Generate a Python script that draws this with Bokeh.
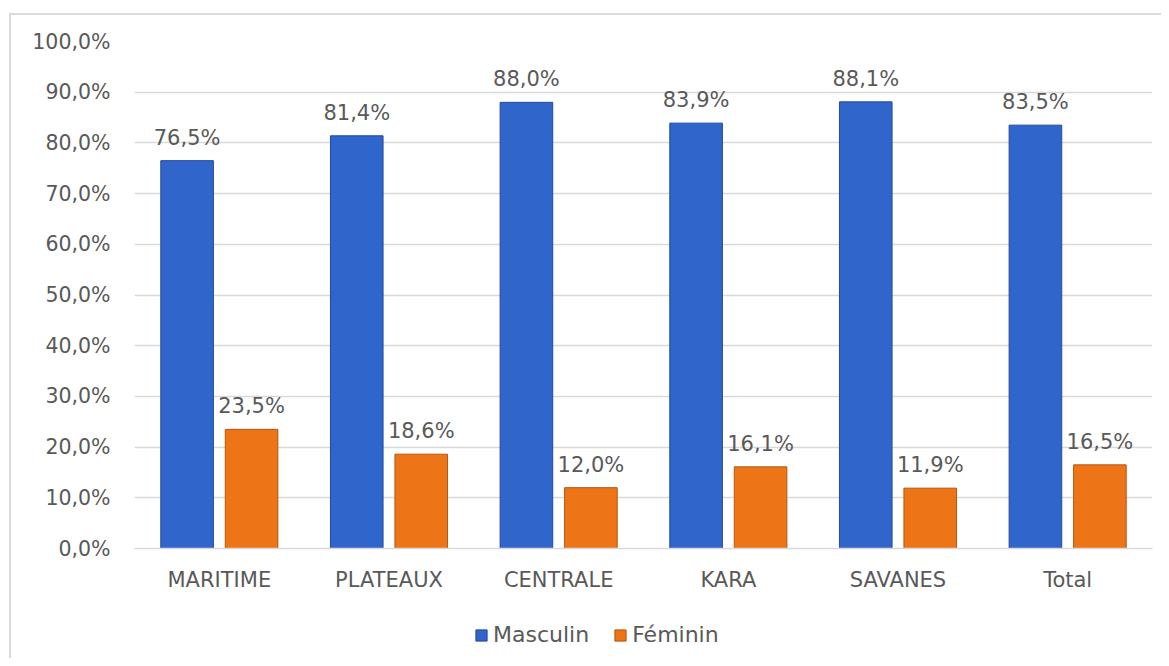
from bokeh.plotting import figure
from bokeh.models import ColumnDataSource, FactorRange, Range1d, CustomJSTickFormatter, Legend, LegendItem, LabelSet
from bokeh.layouts import column
from bokeh.transform import dodge
from bokeh.core.properties import value
from bokeh.embed import file_html
from bokeh.resources import INLINE

categories = ["MARITIME", "PLATEAUX", "CENTRALE", "KARA", "SAVANES", "Total"]
masculin = [76.5, 81.4, 88.0, 83.9, 88.1, 83.5]
feminin = [23.5, 18.6, 12.0, 16.1, 11.9, 16.5]
series_names = ["Masculin", "Féminin"]
colors = ["#3066CC", "#EE7418"]
edges = ["#23499A", "#B5560F"]

def fmt(v):
    return f"{v:.1f}".replace(".", ",") + "%"

src = ColumnDataSource(dict(
    cat=categories,
    m=masculin,
    f=feminin,
    ml=[fmt(v) for v in masculin],
    fl=[fmt(v) for v in feminin],
))

FONT = "DejaVu Sans"
TXT = "#595959"

p = figure(
    x_range=FactorRange(*categories, range_padding=0),
    y_range=Range1d(0, 100),
    width=1150, height=593,
    output_backend="svg", toolbar_location=None,
    min_border_left=123, min_border_right=9, min_border_top=26, min_border_bottom=60,
)
p.x_range.range_padding = 0

bw = 0.31
off = 0.19
rm = p.vbar(x=dodge("cat", -off, range=p.x_range), top="m", width=bw, source=src,
            fill_color=colors[0], line_color=edges[0], line_width=1)
rf = p.vbar(x=dodge("cat", off, range=p.x_range), top="f", width=bw, source=src,
            fill_color=colors[1], line_color=edges[1], line_width=1)

lm = LabelSet(x=dodge("cat", -off, range=p.x_range), y="m", text="ml", source=src,
              text_align="center", text_baseline="bottom", y_offset=11,
              text_font=value(FONT), text_font_size="21px", text_color=TXT)
lf = LabelSet(x=dodge("cat", off, range=p.x_range), y="f", text="fl", source=src,
              text_align="center", text_baseline="bottom", y_offset=11,
              text_font=value(FONT), text_font_size="21px", text_color=TXT)
p.add_layout(lm)
p.add_layout(lf)

p.yaxis.ticker = list(range(0, 101, 10))
p.yaxis.formatter = CustomJSTickFormatter(code="return tick.toFixed(1).replace('.', ',') + '%';")
p.yaxis.axis_line_color = None
p.yaxis.major_tick_line_color = None
p.yaxis.minor_tick_line_color = None
p.yaxis.major_label_text_font = FONT
p.yaxis.major_label_text_font_size = "20.5px"
p.yaxis.major_label_text_color = TXT
p.yaxis.major_label_standoff = 18

p.xaxis.axis_line_color = "#d9d9d9"
p.xaxis.axis_line_width = 1.5
p.xaxis.major_tick_line_color = None
p.xaxis.minor_tick_line_color = None
p.xaxis.major_label_text_font = FONT
p.xaxis.major_label_text_font_size = "21px"
p.xaxis.major_label_text_color = TXT
p.xaxis.major_label_standoff = 13

p.xgrid.grid_line_color = None
p.ygrid.grid_line_color = "#d9d9d9"
p.ygrid.grid_line_width = 1.5
p.outline_line_color = None

# legend strip below the chart
p2 = figure(
    x_range=Range1d(0, 1), y_range=Range1d(0, 1),
    width=1150, height=50,
    output_backend="svg", toolbar_location=None,
    x_axis_location=None, y_axis_location=None,
    min_border=0, min_border_left=0, min_border_right=0, min_border_top=0, min_border_bottom=0,
)
p2.grid.visible = False
p2.outline_line_color = None
dm = p2.vbar(x=[0.5], top=[0.0], bottom=[0.0], width=0.0, fill_color=colors[0], line_color=edges[0])
df = p2.vbar(x=[0.5], top=[0.0], bottom=[0.0], width=0.0, fill_color=colors[1], line_color=edges[1])
legend = Legend(
    items=[LegendItem(label=series_names[0], renderers=[dm]),
           LegendItem(label=series_names[1], renderers=[df])],
    orientation="horizontal",
    location=(340, 11),
    padding=6, margin=0,
    label_text_font=FONT, label_text_font_size="22px", label_text_color=TXT,
    glyph_width=14, glyph_height=14, spacing=24, label_standoff=5,
    border_line_color=None, background_fill_alpha=0,
)
p2.add_layout(legend, "center")

lay = column(p, p2, spacing=0)
lay.styles = {"border-left": "2px solid #d9d9d9", "border-top": "2px solid #d9d9d9",
              "margin-left": "9px", "margin-top": "13px"}

open("out.html", "w").write(file_html(lay, INLINE))
